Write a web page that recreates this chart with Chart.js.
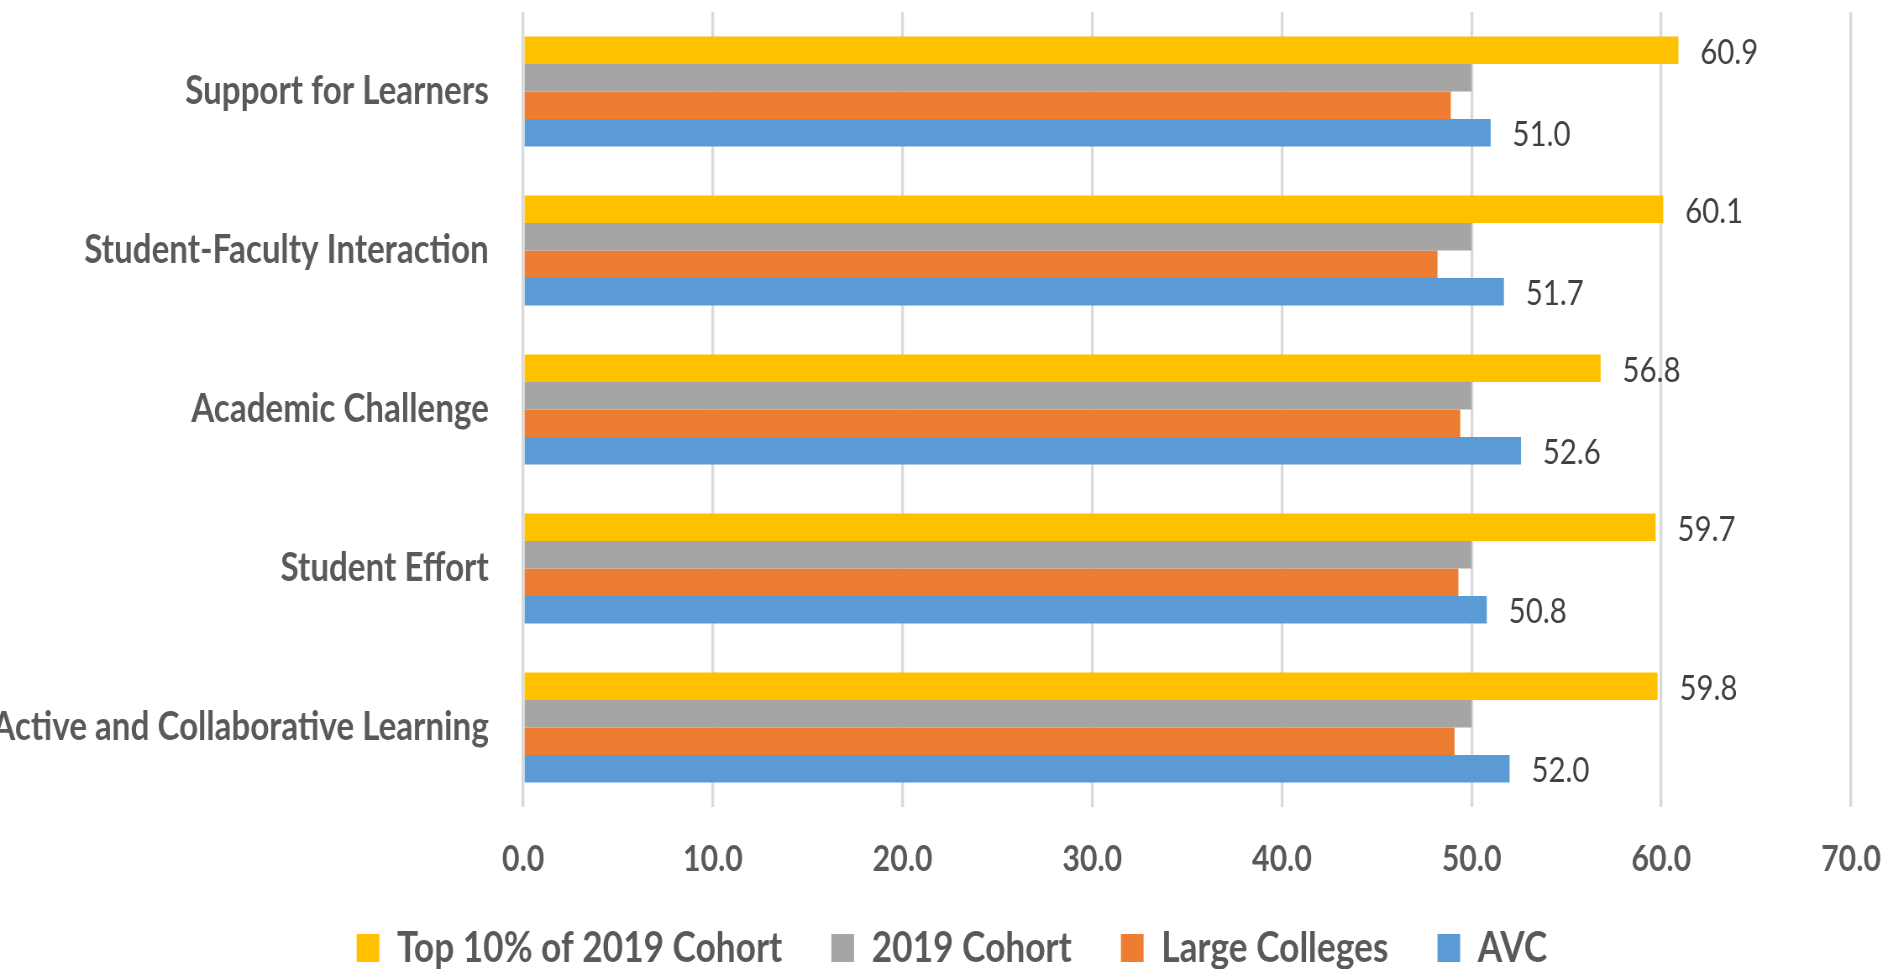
<!DOCTYPE html>
<html>
<head>
<meta charset="utf-8">
<script src="https://cdn.jsdelivr.net/npm/chart.js@4/dist/chart.umd.min.js"></script>
<style>
  html, body { margin: 0; padding: 0; background: #ffffff; overflow: hidden; }
  canvas { display: block; }
</style>
</head>
<body>
<canvas id="c" width="2254" height="969" style="width:1893px;height:969px;"></canvas>
<script>
const categories = ['Support for Learners', 'Student-Faculty Interaction', 'Academic Challenge', 'Student Effort', 'Active and Collaborative Learning'];
const seriesNames = ['Top 10% of 2019 Cohort', '2019 Cohort', 'Large Colleges', 'AVC'];
const top10 = [60.9, 60.1, 56.8, 59.7, 59.8];
const cohort2019 = [50.0, 50.0, 50.0, 50.0, 50.0];
const largeColleges = [48.9, 48.2, 49.4, 49.3, 49.1];
const avc = [51.0, 51.7, 52.6, 50.8, 52.0];
const xTicks = [0, 10, 20, 30, 40, 50, 60, 70];
const labelledSeries = [0, 3];

const colors = ['#FFC000', '#A5A5A5', '#ED7D31', '#5B9BD5'];
const seriesValues = [top10, cohort2019, largeColleges, avc];

const valueLabels = {
  id: 'valueLabels',
  afterDatasetsDraw(chart) {
    const ctx = chart.ctx;
    ctx.save();
    ctx.font = '400 35px Lato';
    ctx.fillStyle = '#404040';
    ctx.textAlign = 'left';
    ctx.textBaseline = 'middle';
    labelledSeries.forEach(di => {
      const meta = chart.getDatasetMeta(di);
      meta.data.forEach((bar, j) => {
        ctx.fillText(seriesValues[di][j].toFixed(1), bar.x + 26, bar.y + 2);
      });
    });
    ctx.restore();
  }
};

const layoutTweaks = {
  id: 'layoutTweaks',
  afterLayout(chart) {
    const xs = chart.scales.x;
    xs.bottom = chart.height;
    if (chart.legend) {
      chart.legend.left = 0;
      chart.legend.right = 2267;
    }
  }
};

new Chart(document.getElementById('c'), {
  type: 'bar',
  data: {
    labels: categories,
    datasets: seriesNames.map((name, i) => ({
      label: name,
      data: seriesValues[i],
      backgroundColor: colors[i],
      borderWidth: 0,
      categoryPercentage: 0.692,
      barPercentage: 1.0
    }))
  },
  options: {
    indexAxis: 'y',
    responsive: false,
    devicePixelRatio: 1,
    animation: false,
    layout: { padding: { top: 12, right: 50, bottom: -10, left: 0 } },
    plugins: {
      legend: {
        position: 'bottom',
        labels: {
          boxWidth: 27,
          boxHeight: 28,
          padding: 58.5,
          color: '#595959',
          font: { family: 'Lato', weight: '700', size: 42 }
        }
      },
      tooltip: { enabled: false }
    },
    scales: {
      x: {
        min: 0,
        max: 70,
        afterBuildTicks(scale) { scale.ticks = xTicks.map(v => ({ value: v })); },
        afterFit(scale) {
          scale.height = 61.5;
          scale.paddingLeft = 0; scale.paddingRight = 0;
          scale.paddingTop = 0; scale.paddingBottom = 0;
        },
        grid: { color: '#D9D9D9', lineWidth: 3.3, drawTicks: false },
        border: { display: false },
        ticks: {
          padding: 31,
          color: '#595959',
          font: { family: 'Lato', weight: '700', size: 36 },
          callback: v => Number(v).toFixed(1)
        }
      },
      y: {
        afterFit(scale) {
          scale.width = 623;
          scale.paddingLeft = 0; scale.paddingRight = 0;
          scale.paddingTop = 0; scale.paddingBottom = 0;
        },
        grid: { display: false, drawTicks: false },
        border: { display: false },
        ticks: {
          padding: 41,
          color: '#595959',
          font: { family: 'Lato', weight: '700', size: 39.5 }
        }
      }
    }
  },
  plugins: [valueLabels, layoutTweaks]
});
</script>
</body>
</html>
